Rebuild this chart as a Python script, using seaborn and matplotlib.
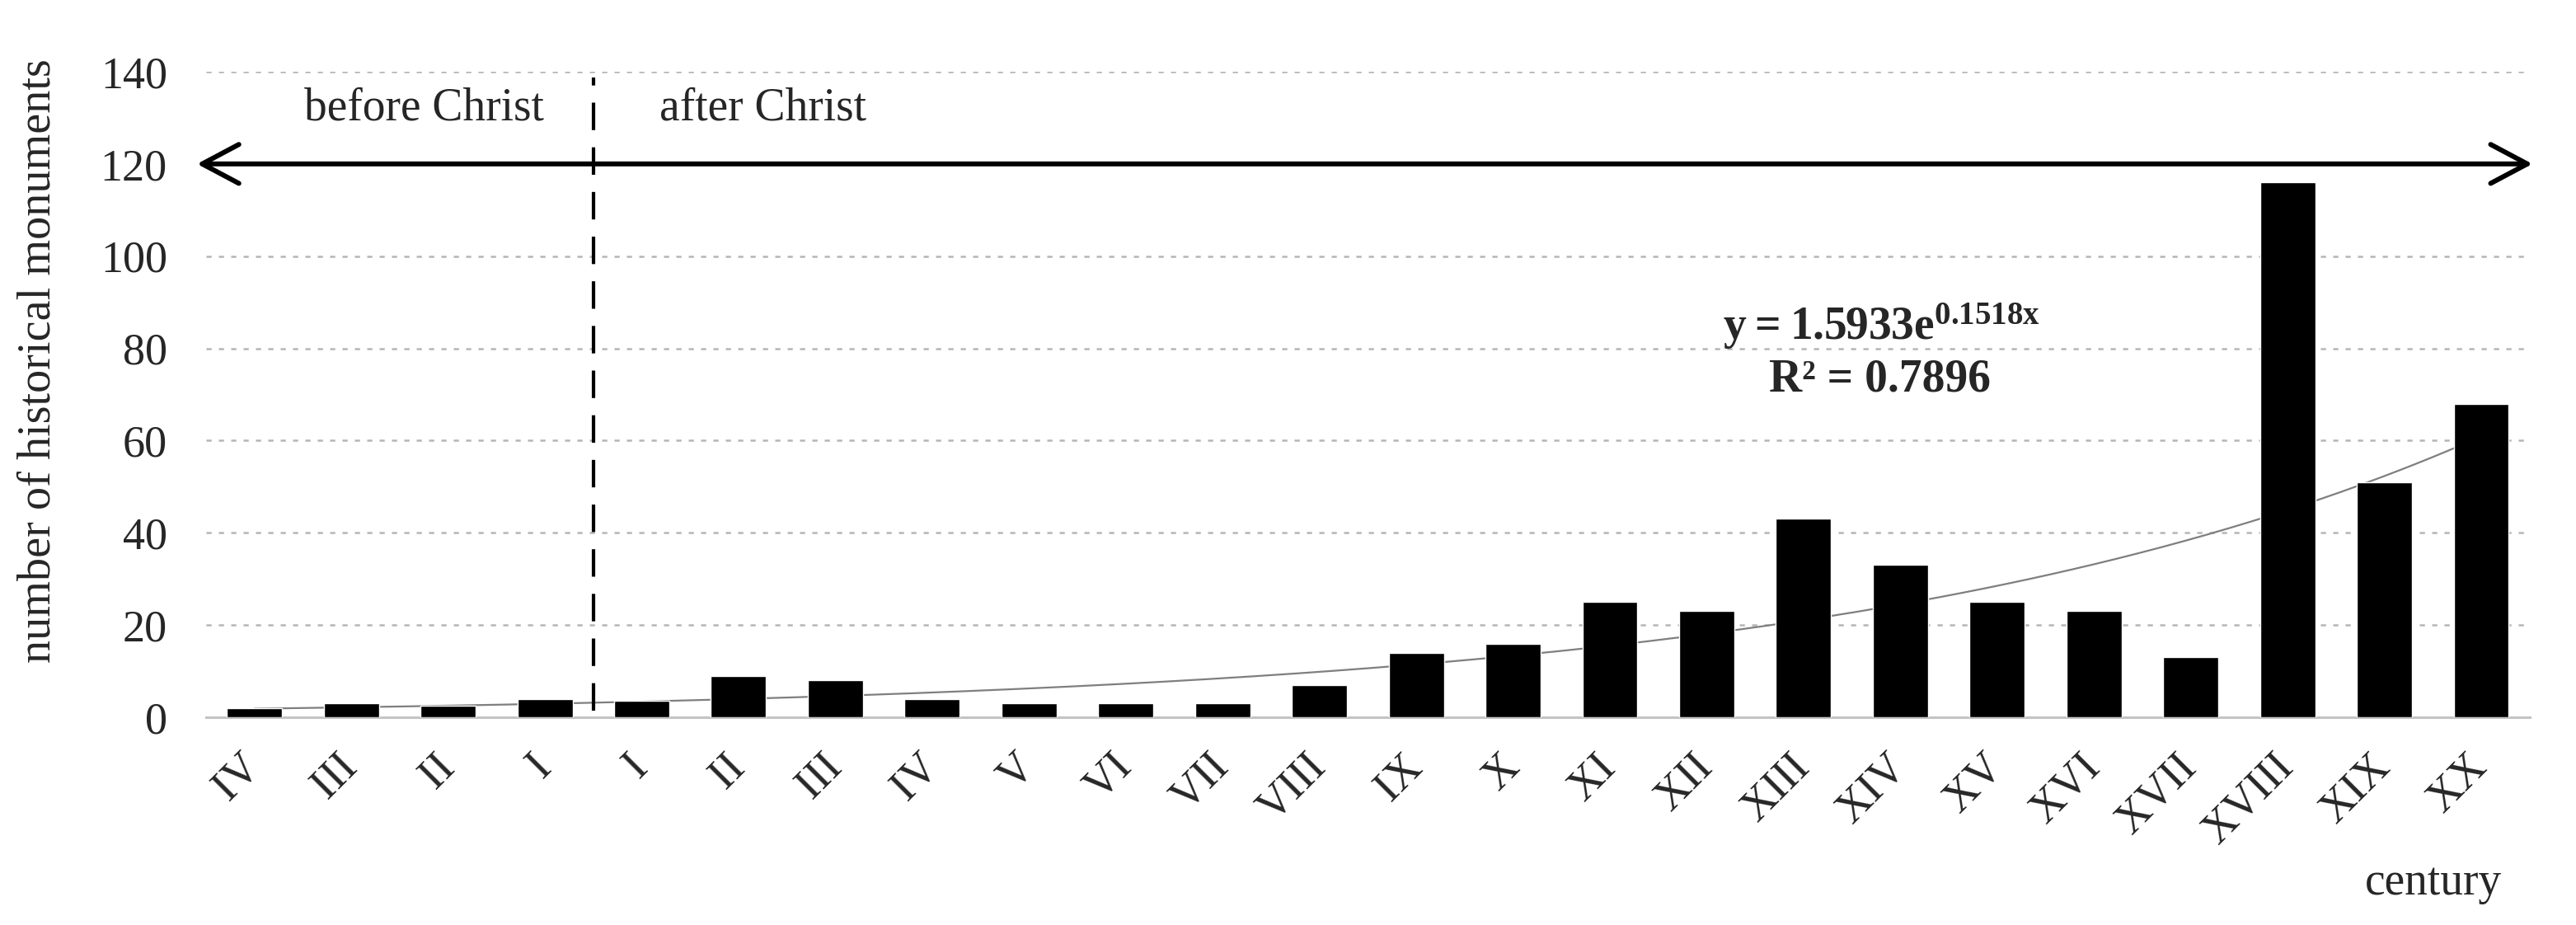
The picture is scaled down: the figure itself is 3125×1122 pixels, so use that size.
import numpy as np
import pandas as pd
import matplotlib
matplotlib.use('Agg')
import matplotlib.pyplot as plt
import seaborn as sns
from matplotlib.patches import FancyArrowPatch

# ── data ─────────────────────────────────────────────────────────────────────
centuries = ['IV', 'III', 'II', 'I',                      # before Christ
             'I', 'II', 'III', 'IV', 'V', 'VI', 'VII', 'VIII', 'IX', 'X',
             'XI', 'XII', 'XIII', 'XIV', 'XV', 'XVI', 'XVII', 'XVIII', 'XIX', 'XX']
monuments = [2, 3, 2.5, 4,
             3.5, 9, 8, 4, 3, 3, 3, 7, 14, 16,
             25, 23, 43, 33, 25, 23, 13, 116, 51, 68]

# exponential trendline given on the chart: y = a * e^(b x), x = 1..24
trend_a = 1.5933
trend_b = 0.1518
r_squared = 0.7896

yticks = [0, 20, 40, 60, 80, 100, 120, 140]

df = pd.DataFrame({'pos': range(len(centuries)), 'count': monuments})

# ── style ────────────────────────────────────────────────────────────────────
sns.set_style('white')
plt.rcParams['font.family'] = ['Liberation Serif', 'DejaVu Serif']
plt.rcParams['mathtext.fontset'] = 'custom'
plt.rcParams['mathtext.rm'] = 'Liberation Serif'
plt.rcParams['mathtext.bf'] = 'Liberation Serif:bold'

fig = plt.figure(figsize=(31.25, 11.22), dpi=100)
ax = fig.add_axes([0.080, 0.2246, 0.902, 0.6979])

# trendline first so the bars sit on top of it
xs = np.linspace(0, len(centuries) - 1, 300)
sns.lineplot(x=xs, y=trend_a * np.exp(trend_b * (xs + 1)), color='#7f7f7f',
             linewidth=1.6, ax=ax, zorder=2)

sns.barplot(data=df, x='pos', y='count', color='black', saturation=1,
            width=0.57, ax=ax, zorder=3)

ax.set_xlim(-0.5, len(centuries) - 0.5)
ax.set_ylim(0, 140)
ax.set_yticks(yticks)
ax.set_xticks(range(len(centuries)))
ax.set_xticklabels(centuries, rotation=45, ha='right', va='center',
                   rotation_mode='anchor')
ax.tick_params(axis='x', length=0, pad=38, labelsize=39)
ax.tick_params(axis='y', length=0, pad=34, labelsize=39)

# dotted grid, solid light baseline
ax.yaxis.grid(True, color='#b5b5b5', linewidth=1.8, linestyle=(0, (2.5, 3.5)))
ax.set_axisbelow(True)
for s in ['top', 'right', 'left']:
    ax.spines[s].set_visible(False)
ax.spines['bottom'].set_color('#c4c4c4')
ax.spines['bottom'].set_linewidth(2.2)

ax.set_xlabel('')
ax.set_ylabel('number of historical monuments', fontsize=40.5)
ax.yaxis.set_label_coords(-0.063, 0.552)
ax.text(2952 / 3125, 1 - 1071 / 1122, 'century', transform=fig.transFigure,
        fontsize=40, ha='center', va='center')

# BC / AD separator and time arrow
ax.plot([3.5, 3.5], [1.5, 138.8], color='black', linewidth=3,
        dashes=(8, 5), zorder=4)
arrow = FancyArrowPatch((-0.594, 120), (23.53, 120),
                        arrowstyle='<->,head_length=32,head_width=17',
                        mutation_scale=1, color='black', linewidth=4.3,
                        shrinkA=0, shrinkB=0, clip_on=False, zorder=5)
ax.add_patch(arrow)
ax.text(1.75, 129.5, 'before Christ', fontsize=40, ha='center', va='baseline')
ax.text(5.25, 129.5, 'after Christ', fontsize=40, ha='center', va='baseline')

# trendline equation
ax.text(16.8, 81.8, r'$\mathbf{y = %.4fe^{%.4fx}}$' % (trend_a, trend_b),
        fontsize=40, ha='center', va='baseline')
ax.text(16.79, 70.8, 'R² = %.4f' % r_squared, fontsize=40, fontweight='bold',
        ha='center', va='baseline')

fig.savefig('out.png', dpi=100, facecolor='white')
